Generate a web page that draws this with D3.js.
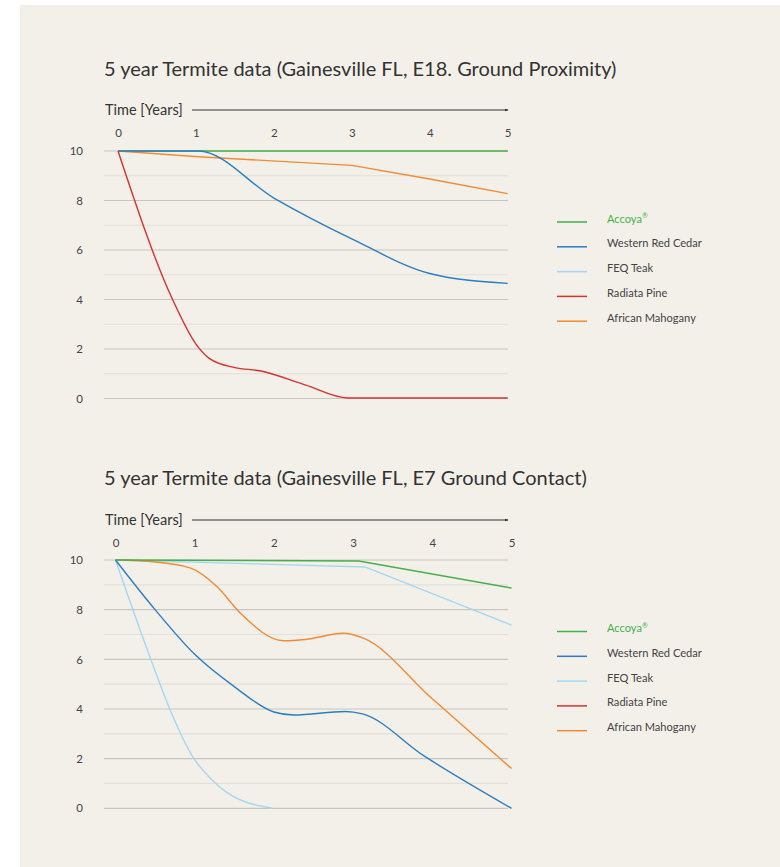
<!DOCTYPE html>
<html>
<head>
<meta charset="utf-8">
<script src="https://cdn.jsdelivr.net/npm/d3@7"></script>
<style>
  body { margin: 0; background: #fff; }
  svg { display: block; }
  text { font-family: Lato, "Open Sans", sans-serif; }
</style>
</head>
<body>
<div id="chart"></div>
<script>
// legend / series names
var seriesNames = ["Accoya", "Western Red Cedar", "FEQ Teak", "Radiata Pine", "African Mahogany"];
var seriesColors = ["#45b04a", "#2a7ec3", "#a6d6f2", "#d9312f", "#f28b33"];

var yearTicks = [0, 1, 2, 3, 4, 5];
var ratingTicks = [0, 2, 4, 6, 8, 10];

// chart 1 : E18 ground proximity  ([year, rating])
var proxAccoya = [[0, 10], [5, 10]];
var proxCedar = [[0, 10], [1.03, 10], [2, 8.1], [3, 6.45], [4, 5.05], [5, 4.65]];
var proxPine = [[0, 10], [0.7, 4.0], [1.0, 2.2], [1.18, 1.6], [1.5, 1.25], [1.82, 1.12], [2.4, 0.55], [2.95, 0.02], [4, 0.02], [5, 0.02]];
var proxMahogany = [[0, 10], [1.03, 9.77], [3, 9.42], [4, 8.87], [5, 8.28]];

// chart 2 : E7 ground contact
var contAccoya = [[0, 10], [3.07, 9.96], [5, 8.87]];
var contCedar = [[0, 10], [0.5, 8.0], [1, 6.2], [1.5, 4.9], [2, 3.88], [2.25, 3.76], [2.9, 3.9], [3.12, 3.8], [3.9, 2.1], [5, 0]];
var contTeak = [[0, 10], [3.15, 9.72], [5, 7.38]];
var contTeak2 = [[0, 10], [0.4, 6.4], [0.69, 3.96], [0.98, 2.05], [1.2, 1.2], [1.4, 0.65], [1.98, 0]];
var contMahogany = [[0, 10], [0.5, 9.92], [0.95, 9.67], [1.28, 8.93], [1.58, 7.85], [2.12, 6.75], [2.4, 6.8], [2.88, 7.05], [3.13, 6.85], [4, 4.41], [5, 1.6]];

var charts = [
  { title: "5 year Termite data (Gainesville FL, E18. Ground Proximity)",
    top: 151, bottom: 398.5, x0: 118, x1: 507.7, titleY: 76, axisY: 110, legendY: 222,
    lines: [
      { data: proxAccoya, color: seriesColors[0], smooth: false },
      { data: proxMahogany, color: seriesColors[4], smooth: false },
      { data: proxCedar, color: seriesColors[1], smooth: true },
      { data: proxPine, color: seriesColors[3], smooth: true }
    ] },
  { title: "5 year Termite data (Gainesville FL, E7 Ground Contact)",
    top: 560, bottom: 808.3, x0: 115.5, x1: 511.5, titleY: 485, axisY: 520, legendY: 631.5,
    lines: [
      { data: contTeak2, color: seriesColors[2], smooth: true },
      { data: contTeak, color: seriesColors[2], smooth: false },
      { data: contMahogany, color: seriesColors[4], smooth: true },
      { data: contCedar, color: seriesColors[1], smooth: true },
      { data: contAccoya, color: seriesColors[0], smooth: false }
    ] }
];

var svg = d3.select("#chart").append("svg")
  .attr("width", 780).attr("height", 867);

svg.append("rect")
  .attr("x", 20).attr("y", 5)
  .attr("width", 760).attr("height", 862)
  .attr("fill", "#f3f0e9");

var defs = svg.append("defs");
defs.append("marker")
  .attr("id", "arrow")
  .attr("viewBox", "0 0 6 6")
  .attr("refX", 5).attr("refY", 3)
  .attr("markerWidth", 4).attr("markerHeight", 4)
  .attr("orient", "auto")
  .append("path")
  .attr("d", "M0,0.8 L6,3 L0,5.2 Z")
  .attr("fill", "#333");

charts.forEach(function(c) {
  var x = d3.scaleLinear().domain([0, 5]).range([c.x0, c.x1]);
  var y = d3.scaleLinear().domain([0, 10]).range([c.bottom, c.top]);
  var g = svg.append("g");

  // title
  g.append("text")
    .attr("x", 104).attr("y", c.titleY)
    .attr("font-size", 20)
    .attr("fill", "#333")
    .text(c.title);

  // time axis label + arrow
  g.append("text")
    .attr("x", 105).attr("y", c.axisY + 4.5)
    .attr("font-size", 14.5)
    .attr("fill", "#333")
    .text("Time [Years]");
  g.append("line")
    .attr("x1", 192).attr("x2", 508)
    .attr("y1", c.axisY).attr("y2", c.axisY)
    .attr("stroke", "#333").attr("stroke-width", 1)
    .attr("marker-end", "url(#arrow)");

  // x tick labels on top
  var xAxis = g.append("g")
    .attr("transform", "translate(0," + (c.axisY + 27) + ")")
    .call(d3.axisTop(x).tickValues(yearTicks).tickSize(0).tickPadding(0).tickFormat(d3.format("d")));
  xAxis.select(".domain").remove();
  xAxis.selectAll("text").attr("font-size", 11.5).attr("fill", "#444")
    .attr("font-family", "Lato, sans-serif");

  // gridlines
  g.append("g").selectAll("line")
    .data(d3.range(0, 11))
    .join("line")
    .attr("x1", 104).attr("x2", 508)
    .attr("y1", function(d) { return y(d); })
    .attr("y2", function(d) { return y(d); })
    .attr("stroke", function(d) { return d % 2 === 0 ? "#c9c6c1" : "#e3e0da"; })
    .attr("stroke-width", 1.2);

  // y labels
  var yAxis = g.append("g")
    .attr("transform", "translate(83,0)")
    .call(d3.axisLeft(y).tickValues(ratingTicks).tickSize(0).tickPadding(0));
  yAxis.select(".domain").remove();
  yAxis.selectAll("text").attr("font-size", 11.5).attr("fill", "#444")
    .attr("font-family", "Lato, sans-serif");

  var smoothLine = d3.line()
    .x(function(d) { return x(d[0]); })
    .y(function(d) { return y(d[1]); })
    .curve(d3.curveMonotoneX);
  var straightLine = d3.line()
    .x(function(d) { return x(d[0]); })
    .y(function(d) { return y(d[1]); });

  c.lines.forEach(function(s) {
    g.append("path")
      .datum(s.data)
      .attr("fill", "none")
      .attr("stroke", s.color)
      .attr("stroke-width", 1.4)
      .attr("stroke-linejoin", "round")
      .attr("d", s.smooth ? smoothLine : straightLine);
  });

  // legend
  var leg = g.append("g").selectAll("g")
    .data(seriesNames)
    .join("g")
    .attr("transform", function(d, i) { return "translate(557," + (c.legendY + i * 24.8) + ")"; });
  leg.append("line")
    .attr("x1", 0).attr("x2", 30)
    .attr("stroke", function(d, i) { return seriesColors[i]; })
    .attr("stroke-width", 1.5);
  var lt = leg.append("text")
    .attr("x", 50).attr("y", 0)
    .attr("dy", "0.05em")
    .attr("font-size", 11.1)
    .attr("fill", function(d, i) { return i === 0 ? seriesColors[0] : "#444"; })
    .text(function(d) { return d; });
  // small registered mark on Accoya
  lt.filter(function(d, i) { return i === 0; })
    .append("tspan")
    .attr("font-size", 7)
    .attr("dy", "-0.6em")
    .text("®");
});
</script>
</body>
</html>
